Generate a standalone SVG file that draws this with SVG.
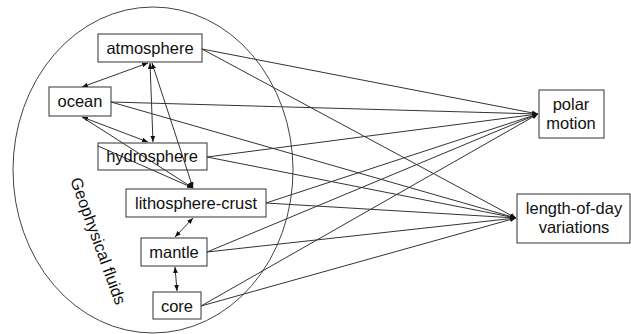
<svg xmlns="http://www.w3.org/2000/svg" width="631" height="334" viewBox="0 0 631 334">
<style>
.box{fill:#fff;stroke:#333;stroke-width:1}
.t{font-family:"Liberation Sans",Arial,sans-serif;font-size:16.5px;fill:#111;text-anchor:middle}
.c line{stroke:#333;stroke-width:1}
</style>
<defs>
<marker id="ah" viewBox="0 0 10 10" refX="10" refY="5" markerWidth="6" markerHeight="6" markerUnits="userSpaceOnUse" orient="auto-start-reverse">
<path d="M0,1 L10,5 L0,9 z" fill="#111"/>
</marker>
</defs>
<rect width="631" height="334" fill="#fff"/>
<g id="fluids">
<ellipse cx="153" cy="170" rx="140" ry="163" fill="none" stroke="#444" stroke-width="1"/>
<text class="t" x="0" y="0" text-anchor="start" style="text-anchor:start" transform="translate(70,180) rotate(70)">Geophysical fluids</text>
</g>
<g class="c" id="connectors">
<line x1="148" y1="63" x2="82" y2="87" marker-start="url(#ah)" marker-end="url(#ah)"/>
<line x1="150" y1="63" x2="153" y2="142" marker-start="url(#ah)" marker-end="url(#ah)"/>
<line x1="82" y1="117" x2="148" y2="142" marker-start="url(#ah)" marker-end="url(#ah)"/>
<line x1="152" y1="63" x2="193" y2="188" marker-start="url(#ah)" marker-end="url(#ah)"/>
<line x1="82" y1="117" x2="193" y2="188" marker-end="url(#ah)"/>
<line x1="98" y1="146" x2="193" y2="188" marker-end="url(#ah)"/>
<line x1="193" y1="218" x2="175" y2="237" marker-start="url(#ah)" marker-end="url(#ah)"/>
<line x1="175" y1="267" x2="177" y2="291" marker-start="url(#ah)" marker-end="url(#ah)"/>
<line x1="202" y1="49" x2="538" y2="114" marker-end="url(#ah)"/>
<line x1="202" y1="49" x2="516" y2="218" marker-end="url(#ah)"/>
<line x1="111" y1="102" x2="538" y2="114" marker-end="url(#ah)"/>
<line x1="111" y1="102" x2="516" y2="218" marker-end="url(#ah)"/>
<line x1="207" y1="157" x2="538" y2="114" marker-end="url(#ah)"/>
<line x1="207" y1="157" x2="516" y2="218" marker-end="url(#ah)"/>
<line x1="266" y1="203" x2="538" y2="114" marker-end="url(#ah)"/>
<line x1="266" y1="203" x2="516" y2="218" marker-end="url(#ah)"/>
<line x1="207" y1="252" x2="538" y2="114" marker-end="url(#ah)"/>
<line x1="207" y1="252" x2="516" y2="218" marker-end="url(#ah)"/>
<line x1="201" y1="306" x2="538" y2="114" marker-end="url(#ah)"/>
<line x1="201" y1="306" x2="516" y2="218" marker-end="url(#ah)"/>
</g>
<g id="atmosphere"><rect class="box" x="98" y="34" width="104" height="28"/><text class="t" x="150" y="54">atmosphere</text></g>
<g id="ocean"><rect class="box" x="49" y="87" width="62" height="29"/><text class="t" x="80" y="107">ocean</text></g>
<g id="hydrosphere"><rect class="box" x="98" y="143" width="109" height="27" fill-opacity="0"/><text class="t" x="152" y="162">hydrosphere</text></g>
<g id="lithosphere-crust"><rect class="box" x="126" y="189" width="140" height="28"/><text class="t" x="196" y="209">lithosphere-crust</text></g>
<g id="mantle"><rect class="box" x="141" y="238" width="66" height="28"/><text class="t" x="174" y="258">mantle</text></g>
<g id="core"><rect class="box" x="153" y="292" width="48" height="27"/><text class="t" x="177" y="312">core</text></g>
<g id="polar-motion"><rect class="box" x="539" y="90" width="65" height="48"/><text class="t" x="571" y="110">polar</text><text class="t" x="571" y="129">motion</text></g>
<g id="length-of-day"><rect class="box" x="517" y="194" width="113" height="49"/><text class="t" x="574" y="214">length-of-day</text><text class="t" x="574" y="233">variations</text></g>
</svg>
